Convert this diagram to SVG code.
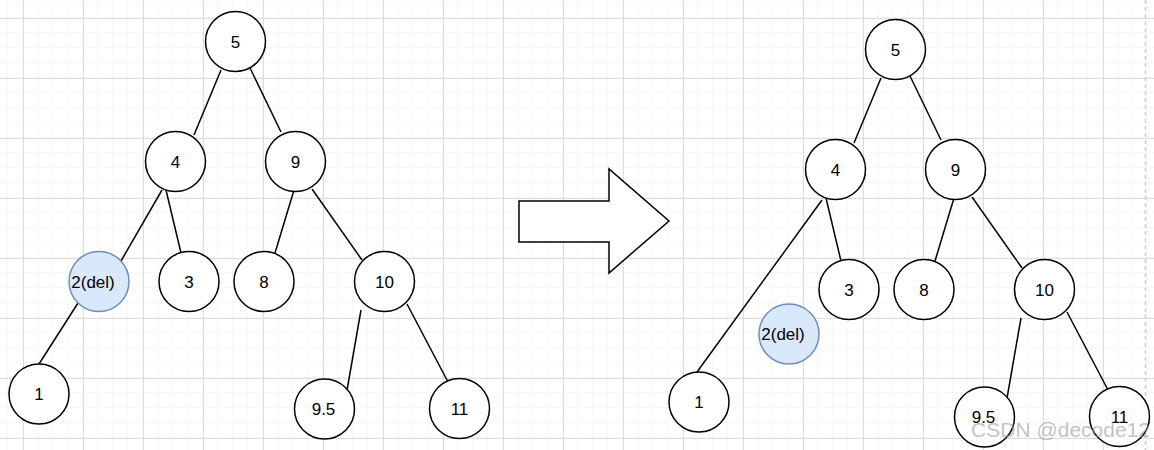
<svg xmlns="http://www.w3.org/2000/svg" width="1154" height="450" viewBox="0 0 1154 450">
<defs>
<pattern id="minor" x="8" y="3" width="15" height="15" patternUnits="userSpaceOnUse">
<path d="M15 0V15M0 15H15" fill="none" stroke="#f1f1f1" stroke-width="1"/>
</pattern>
<pattern id="major" x="23" y="18" width="60" height="60" patternUnits="userSpaceOnUse">
<path d="M0.5 0V60M0 0.5H60" fill="none" stroke="#dddddd" stroke-width="1"/>
</pattern>
</defs>
<style>
.n{fill:#ffffff;stroke:#000000;stroke-width:1.5}
.d{fill:#dae8fc;stroke:#6c8ebf;stroke-width:1.5}
.t{font-family:"Liberation Sans",Arial,sans-serif;font-size:17px;fill:#000000;text-anchor:middle}
.e{stroke:#000000;stroke-width:1.5;fill:none}
</style>
<rect width="1154" height="450" fill="#ffffff"/>
<rect width="1154" height="450" fill="url(#minor)"/>
<rect width="1154" height="450" fill="url(#major)"/>
<line x1="1145.5" y1="0" x2="1145.5" y2="450" stroke="#cccccc" stroke-width="1.5" stroke-dasharray="4 3"/>
<g id="connectors">
<line class="e" x1="221" y1="70" x2="194" y2="135"/>
<line class="e" x1="250" y1="68" x2="281" y2="132"/>
<line class="e" x1="162" y1="190" x2="121" y2="261"/>
<line class="e" x1="166" y1="190" x2="181" y2="253"/>
<line class="e" x1="294" y1="190" x2="275" y2="253"/>
<line class="e" x1="312" y1="189" x2="362" y2="260"/>
<line class="e" x1="78" y1="303" x2="39" y2="364"/>
<line class="e" x1="361" y1="310" x2="346" y2="396"/>
<line class="e" x1="407" y1="304" x2="448" y2="382"/>
<line class="e" x1="881" y1="78" x2="854" y2="143"/>
<line class="e" x1="910" y1="76" x2="941" y2="140"/>
<line class="e" x1="822" y1="200" x2="697" y2="372"/>
<line class="e" x1="826" y1="198" x2="841" y2="261"/>
<line class="e" x1="954" y1="198" x2="935" y2="261"/>
<line class="e" x1="972" y1="197" x2="1022" y2="268"/>
<line class="e" x1="1021" y1="318" x2="1006" y2="404"/>
<line class="e" x1="1067" y1="312" x2="1108" y2="390"/>
</g>
<g id="arrow"><polygon points="519,201 609,201 609,169 669,221 609,273 609,242 519,242" fill="#ffffff" stroke="#000000" stroke-width="1.5"/></g>
<g id="L5"><circle class="n" cx="235.5" cy="41.5" r="30"/><text class="t" x="235.5" y="47.5">5</text></g>
<g id="L4"><circle class="n" cx="175.5" cy="161.5" r="30"/><text class="t" x="175.5" y="167.5">4</text></g>
<g id="L9"><circle class="n" cx="295.5" cy="161.5" r="30"/><text class="t" x="295.5" y="167.5">9</text></g>
<g id="L2"><circle class="d" cx="99" cy="281.5" r="30"/><text class="t" x="93" y="287.5">2(del)</text></g>
<g id="L3"><circle class="n" cx="189" cy="281.5" r="30"/><text class="t" x="189" y="287.5">3</text></g>
<g id="L8"><circle class="n" cx="264" cy="281.5" r="30"/><text class="t" x="264" y="287.5">8</text></g>
<g id="L10"><circle class="n" cx="384.5" cy="281.5" r="30"/><text class="t" x="384.5" y="287.5">10</text></g>
<g id="L1"><circle class="n" cx="39" cy="394" r="30"/><text class="t" x="39" y="400">1</text></g>
<g id="L95"><circle class="n" cx="324.5" cy="409" r="30"/><text class="t" x="323.5" y="415">9.5</text></g>
<g id="L11"><circle class="n" cx="459.5" cy="408.5" r="30"/><text class="t" x="459.5" y="414.5">11</text></g>
<g id="R5"><circle class="n" cx="895.5" cy="49.5" r="30"/><text class="t" x="895.5" y="55.5">5</text></g>
<g id="R4"><circle class="n" cx="835.5" cy="169.5" r="30"/><text class="t" x="835.5" y="175.5">4</text></g>
<g id="R9"><circle class="n" cx="955.5" cy="169.5" r="30"/><text class="t" x="955.5" y="175.5">9</text></g>
<g id="R3"><circle class="n" cx="849" cy="289.5" r="30"/><text class="t" x="849" y="295.5">3</text></g>
<g id="R8"><circle class="n" cx="924" cy="289.5" r="30"/><text class="t" x="924" y="295.5">8</text></g>
<g id="R10"><circle class="n" cx="1044.5" cy="289.5" r="30"/><text class="t" x="1044.5" y="295.5">10</text></g>
<g id="R2"><circle class="d" cx="789" cy="334" r="30"/><text class="t" x="783" y="340">2(del)</text></g>
<g id="R1"><circle class="n" cx="699" cy="402" r="30"/><text class="t" x="699" y="408">1</text></g>
<g id="R95"><circle class="n" cx="984.5" cy="417" r="30"/><text class="t" x="983.5" y="423">9.5</text></g>
<g id="R11"><circle class="n" cx="1119.5" cy="416.5" r="30"/><text class="t" x="1119.5" y="422.5">11</text></g>
<text x="1150" y="437" font-family="'Liberation Sans',Arial,sans-serif" font-size="21" fill="#999999" fill-opacity="0.6" text-anchor="end">CSDN @decode12</text>
</svg>
